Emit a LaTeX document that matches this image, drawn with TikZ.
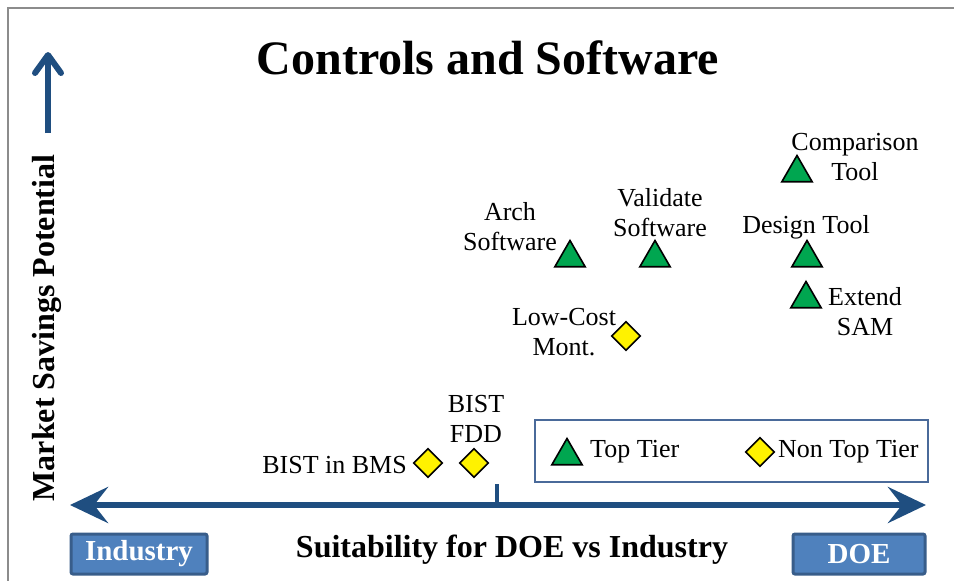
\documentclass[tikz,border=0pt]{standalone}
\usepackage{fontspec}
\setmainfont{Liberation Serif}
\usetikzlibrary{shapes.geometric,arrows.meta}
\definecolor{axisblue}{HTML}{1F4E80}
\definecolor{boxfill}{HTML}{4F81BD}
\definecolor{boxline}{HTML}{385D8A}
\definecolor{tiergreen}{HTML}{00A650}
\definecolor{legline}{HTML}{4A6A9A}
\definecolor{framegray}{HTML}{8C8C8C}
\tikzset{
  lbl/.style={font=\fontsize{26}{30}\selectfont, align=center, inner sep=0pt},
  toptier/.style={regular polygon, regular polygon sides=3, minimum size=35pt,
    inner sep=0pt, draw=black, line width=1.6pt, fill=tiergreen},
  nontier/.style={diamond, minimum size=29pt, inner sep=0pt, draw=black,
    line width=1.6pt, fill=yellow},
  endbox/.style={draw=boxline, line width=3pt, fill=boxfill, text=white,
    rounded corners=2pt, font=\fontsize{29}{30}\selectfont\bfseries,
    minimum height=40pt, inner sep=0pt},
  axisline/.style={draw=axisblue, line width=6.5pt},
}
\begin{document}
\begin{tikzpicture}[x=1pt,y=-1pt]
\useasboundingbox (0,0) rectangle (954,581);
\fill[white] (0,0) rectangle (954,581);
% partial frame
\draw[framegray, line width=2.5pt] (8,581) -- (8,8) -- (954,8);

% title
\node[font=\fontsize{48}{50}\selectfont\bfseries] (title) at (488,58) {Controls and Software};

% vertical axis
\coordinate (ybot) at (48,133);
\coordinate (ytop) at (48,52);
\draw[axisblue, line width=6pt, -{Straight Barb[length=18pt,width=26pt,round]}] (ybot) -- (ytop);
\node[rotate=90, font=\fontsize{32}{34}\selectfont\bfseries] (ylab) at (47,328) {Market Savings Potential};

% horizontal axis
\coordinate (xl) at (70,505);
\coordinate (xr) at (926,505);
\draw[axisline, {Stealth[length=38pt,width=36pt,inset=14pt]}-{Stealth[length=38pt,width=36pt,inset=14pt]}] (xl) -- (xr);
\coordinate (tickt) at (497,484);
\coordinate (tickb) at (497,505);
\draw[axisblue, line width=4pt] (tickt) -- (tickb);

\node[endbox, minimum width=136pt] (ind) at (139,554) {Industry};
\node[endbox, minimum width=132pt] (doe) at (859,554) {DOE};
\node[font=\fontsize{32}{34}\selectfont\bfseries] (xlab) at (512,550) {Suitability for DOE vs Industry};

% legend
\node[draw=legline, line width=1.2pt, minimum width=393pt, minimum height=62pt] (legend) at (731.5,451) {};
\node[toptier] (lt) at (567,456) {};
\node[lbl, anchor=west] (ltt) at (590,452) {Top Tier};
\node[nontier] (ln) at (760,452) {};
\node[lbl, anchor=west] (lnt) at (778,452) {Non Top Tier};

% data points
\node[toptier] (ct) at (797,173) {};
\node[lbl] (ctl) at (855,157) {Comparison\\Tool};
\node[toptier] (arch) at (570,258) {};
\node[lbl] (archl) at (510,227) {Arch\\Software};
\node[toptier] (val) at (655,258) {};
\node[lbl] (vall) at (660,213) {Validate\\Software};
\node[toptier] (des) at (807,258) {};
\node[lbl] (desl) at (806,227) {Design Tool};
\node[toptier] (ext) at (806,299) {};
\node[lbl] (extl) at (865,312) {Extend\\SAM};
\node[nontier] (lcm) at (626,336) {};
\node[lbl] (lcml) at (564,332) {Low-Cost\\Mont.};
\node[nontier] (bms) at (428,463) {};
\node[lbl, anchor=east] (bmsl) at (407,465) {BIST in BMS};
\node[nontier] (fdd) at (474,463) {};
\node[lbl] (fddl) at (476,419) {BIST\\FDD};
\end{tikzpicture}
\end{document}
